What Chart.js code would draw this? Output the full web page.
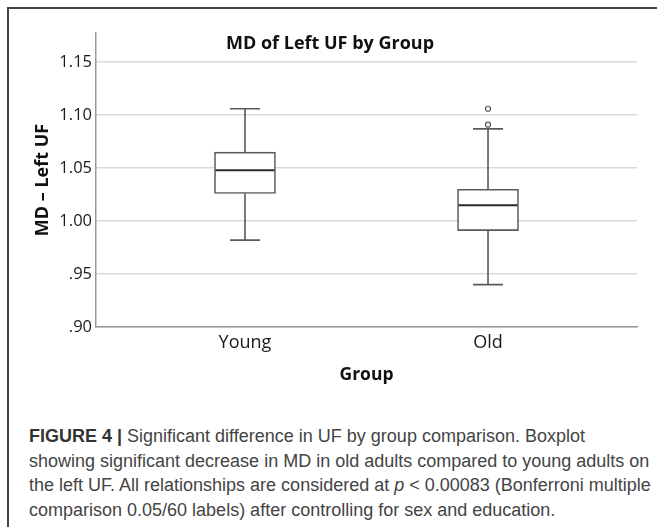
<!DOCTYPE html>
<html><head><meta charset="utf-8">
<script src="https://cdn.jsdelivr.net/npm/chart.js@4.4.1/dist/chart.umd.min.js"></script>
<style>
html,body{margin:0;padding:0;background:#fff;}
body{width:657px;height:527px;position:relative;overflow:hidden;}
#c{position:absolute;left:0;top:0;}
#frameTop{position:absolute;left:7px;top:7px;width:650px;height:0;border-top:2px solid #444;}
#frameLeft{position:absolute;left:7px;top:7px;width:0;height:520px;border-left:2px solid #444;}
#caption{position:absolute;left:29px;top:424px;font-family:"Liberation Sans",Arial,sans-serif;font-size:18px;line-height:24.5px;color:#444;white-space:nowrap;}
#caption b{color:#333;}
</style></head>
<body>
<canvas id="c" width="657" height="400"></canvas>
<div id="frameTop"></div><div id="frameLeft"></div>
<div id="caption"><b>FIGURE 4 |</b> Significant difference in UF by group comparison. Boxplot<br>showing significant decrease in MD in old adults compared to young adults on<br>the left UF. All relationships are considered at <i>p</i> &lt; 0.00083 (Bonferroni multiple<br>comparison 0.05/60 labels) after controlling for sex and education.</div>
<script>
const categories = ['Young', 'Old'];
const whiskerLow = [0.982, 0.940];
const q1 = [1.026, 0.991];
const median = [1.048, 1.015];
const q3 = [1.065, 1.030];
const whiskerHigh = [1.106, 1.087];
const outliers = [[], [1.106, 1.091]];
const yTicks = [0.90, 0.95, 1.00, 1.05, 1.10, 1.15];
const yTickLabels = ['.90', '.95', '1.00', '1.05', '1.10', '1.15'];

const FONT = '"Open Sans", "DejaVu Sans", sans-serif';

const boxParts = {
  id: 'boxParts',
  afterDatasetsDraw(chart) {
    const meta = chart.getDatasetMeta(0);
    const xs = chart.scales.x, ys = chart.scales.y, ctx = chart.ctx;
    ctx.save();
    meta.data.forEach((bar, i) => {
      const cx = xs.getPixelForValue(i + 1);
      const half = bar.width / 2;
      const cap = 15;
      ctx.strokeStyle = '#5a5a5a';
      ctx.lineWidth = 1.6;
      ctx.beginPath();
      ctx.moveTo(cx, ys.getPixelForValue(q3[i]));
      ctx.lineTo(cx, ys.getPixelForValue(whiskerHigh[i]));
      ctx.moveTo(cx, ys.getPixelForValue(q1[i]));
      ctx.lineTo(cx, ys.getPixelForValue(whiskerLow[i]));
      ctx.moveTo(cx - cap, ys.getPixelForValue(whiskerHigh[i]));
      ctx.lineTo(cx + cap, ys.getPixelForValue(whiskerHigh[i]));
      ctx.moveTo(cx - cap, ys.getPixelForValue(whiskerLow[i]));
      ctx.lineTo(cx + cap, ys.getPixelForValue(whiskerLow[i]));
      ctx.stroke();
      ctx.strokeStyle = '#2a2a2a';
      ctx.lineWidth = 2;
      ctx.beginPath();
      ctx.moveTo(cx - half + 1, ys.getPixelForValue(median[i]));
      ctx.lineTo(cx + half - 1, ys.getPixelForValue(median[i]));
      ctx.stroke();
    });
    ctx.restore();
  }
};

const outlierPoints = [];
outliers.forEach((arr, i) => arr.forEach(v => outlierPoints.push({x: i + 1, y: v})));

new Chart(document.getElementById('c'), {
  type: 'bar',
  data: {
    datasets: [{
      type: 'bar',
      data: categories.map((c, i) => ({x: i + 1, y: [q1[i], q3[i]]})),
      backgroundColor: '#ffffff',
      borderColor: '#5a5a5a',
      borderWidth: 1.6,
      borderSkipped: false,
      barThickness: 61
    }, {
      type: 'scatter',
      data: outlierPoints,
      pointRadius: 2.5,
      pointBorderWidth: 1.2,
      borderColor: '#5a5a5a',
      backgroundColor: '#fff'
    }]
  },
  plugins: [boxParts],
  options: {
    responsive: false,
    animation: false,
    layout: {padding: {left: 23, right: 20, top: 0, bottom: 0}},
    plugins: {
      legend: {display: false},
      tooltip: {enabled: false},
      title: {
        display: true, text: 'MD of Left UF by Group', color: '#111',
        font: {family: FONT, size: 18, weight: 'bold'},
        padding: {top: 33, bottom: -21.6}
      }
    },
    scales: {
      x: {
        type: 'linear', min: 0.387, max: 2.613, offset: false,
        afterBuildTicks: s => { s.ticks = categories.map((c, i) => ({value: i + 1})); },
        afterFit: s => { s.height = 73; },
        ticks: {
          callback: v => categories[v - 1] || '',
          font: {family: FONT, size: 18}, color: '#1a1a1a',
          padding: 5, autoSkip: false, maxRotation: 0
        },
        grid: {display: false, drawTicks: false, offset: false},
        border: {display: true, color: '#999', width: 1.5},
        title: {
          display: true, text: 'Group', color: '#111',
          font: {family: FONT, size: 17.5, weight: 'bold'},
          padding: {top: 0, bottom: 14}
        }
      },
      y: {
        min: 0.9, max: 1.1775,
        afterBuildTicks: s => { s.ticks = yTicks.map(v => ({value: v})); },
        afterFit: s => { s.width = 73; },
        ticks: {
          callback: v => { const i = yTicks.findIndex(t => Math.abs(t - v) < 1e-9); return i >= 0 ? yTickLabels[i] : ''; },
          font: {family: FONT, size: 16.5}, color: '#1a1a1a', padding: 4
        },
        grid: {color: '#d9d9d9', lineWidth: 1.5, drawTicks: false},
        border: {color: '#999', width: 1.5},
        title: {
          display: true, text: 'MD – Left UF', color: '#111',
          font: {family: FONT, size: 18, weight: 'bold'},
          padding: {top: 9, bottom: 0}
        }
      }
    }
  }
});
</script>
</body></html>
